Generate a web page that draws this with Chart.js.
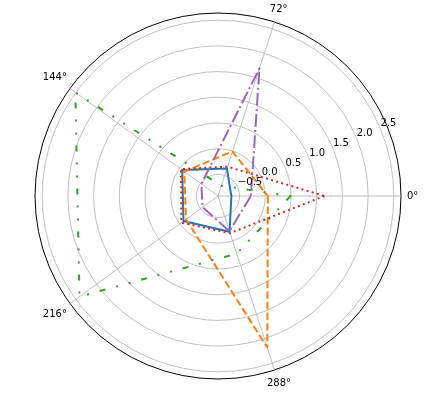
<!DOCTYPE html>
<html>
<head>
<meta charset="utf-8">
<script src="https://cdn.jsdelivr.net/npm/chart.js@4.4.0/dist/chart.umd.min.js"></script>
<style>
  body { margin: 0; background: #fff; }
</style>
</head>
<body>
<canvas id="polar" width="433" height="397"></canvas>
<script>
// angles (deg, counter-clockwise from east) and their labels
const thetaDeg = [0, 72, 144, 216, 288];
const thetaLabels = ['0°', '72°', '144°', '216°', '288°'];
const rTicks = [-0.5, 0.0, 0.5, 1.0, 1.5, 2.0, 2.5];
const rMin = -0.92;
const rMax = 2.64;

// one value per angle, same order as thetaDeg
const blueVals   = [-0.66, -0.36, -0.06, -0.09, -0.19];
const orangeVals = [0.05, -0.01, -0.11, -0.15, 2.18];
const greenVals  = [0.49, -0.71, 2.51, 2.41, 0.26];
const redVals    = [1.15, -0.32, -0.03, -0.04, -0.16];
const purpleVals = [-0.28, 1.69, -0.52, -0.55, -0.20];

// chart.js goes clockwise, matplotlib counter-clockwise
const chartOrder = [0, 4, 3, 2, 1];
const reorder = arr => chartOrder.map(i => arr[i]);

const styles = [
    { vals: blueVals,   color: '#1f77b4', dash: [] },
    { vals: orangeVals, color: '#ff7f0e', dash: [7.4, 3.2] },
    { vals: greenVals,  color: '#2ca02c', dash: [6, 11, 2, 11, 2, 11] },
    { vals: redVals,    color: '#d62728', dash: [2, 3.3] },
    { vals: purpleVals, color: '#9467bd', dash: [12.8, 3.2, 2, 3.2] }
];

const polarText = {
    id: 'polarText',
    afterDatasetsDraw(chart) {
        const s = chart.scales.r;
        const ctx = chart.ctx;
        ctx.save();
        ctx.font = '10px "DejaVu Sans", sans-serif';
        ctx.fillStyle = '#000';

        // radial tick labels sit on the 22.5 deg line
        const a = 22.5 * Math.PI / 180;
        ctx.textAlign = 'left';
        ctx.textBaseline = 'bottom';
        rTicks.forEach(v => {
            const d = s.getDistanceFromCenterForValue(v);
            const txt = (v < 0 ? '\u2212' : '') + Math.abs(v).toFixed(1);
            ctx.fillText(txt, s.xCenter + Math.cos(a) * d, s.yCenter - Math.sin(a) * d);
        });

        // angle labels just outside the outer circle
        ctx.textAlign = 'center';
        ctx.textBaseline = 'middle';
        thetaLabels.forEach((t, i) => {
            const ang = thetaDeg[i] * Math.PI / 180;
            const w = ctx.measureText(t).width;
            const d = s.drawingArea + 6 + Math.abs(Math.cos(ang)) * w / 2 + Math.abs(Math.sin(ang)) * 5;
            ctx.fillText(t, s.xCenter + Math.cos(ang) * d, s.yCenter - Math.sin(ang) * d);
        });
        ctx.restore();
    }
};

const tickCount = rTicks.length + 2;

new Chart(document.getElementById('polar'), {
    type: 'radar',
    data: {
        labels: reorder(thetaLabels),
        datasets: styles.map((st, i) => ({
            data: reorder(st.vals),
            borderColor: st.color,
            borderWidth: 2,
            borderDash: st.dash,
            borderCapStyle: 'butt',
            borderJoinStyle: 'round',
            fill: false,
            pointRadius: 0,
            order: styles.length - i
        }))
    },
    options: {
        responsive: false,
        animation: false,
        layout: {
            padding: { left: 35, top: 13, right: 32, bottom: 18 }
        },
        plugins: {
            legend: { display: false },
            tooltip: { enabled: false }
        },
        scales: {
            r: {
                min: rMin,
                max: rMax,
                startAngle: 90,
                afterBuildTicks(scale) {
                    scale.ticks = [rMin, ...rTicks, rMax].map(v => ({ value: v }));
                },
                ticks: { display: false },
                pointLabels: { display: false },
                grid: {
                    circular: true,
                    color: c => c.index === tickCount - 1 ? '#000' : (c.index === 0 ? 'rgba(0,0,0,0)' : '#b0b0b0'),
                    lineWidth: c => c.index === tickCount - 1 ? 1 : 0.8
                },
                angleLines: {
                    color: '#b0b0b0',
                    lineWidth: 0.8
                }
            }
        }
    },
    plugins: [polarText]
});
</script>
</body>
</html>
